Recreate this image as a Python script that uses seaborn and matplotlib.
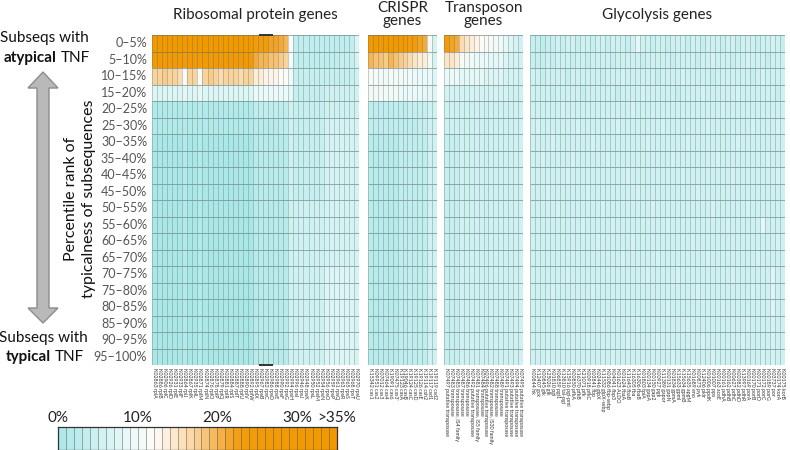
import numpy as np
import pandas as pd
import matplotlib
matplotlib.use("Agg")
import matplotlib.pyplot as plt
import seaborn as sns
from matplotlib.colors import LinearSegmentedColormap
from matplotlib.patches import Polygon

sns.set_theme(style="white")
plt.rcParams["font.family"] = ["Lato", "DejaVu Sans"]

# percentile bins (rows)
row_labels = ["0–5%", "5–10%", "10–15%", "15–20%", "20–25%", "25–30%", "30–35%",
              "35–40%", "40–45%", "45–50%", "50–55%", "55–60%", "60–65%", "65–70%",
              "70–75%", "75–80%", "80–85%", "85–90%", "90–95%", "95–100%"]

# gene labels (columns)
ribo_genes = ["K02863 rplA", "K02886 rplB", "K02906 rplC", "K02926 rplD", "K02931 rplE",
              "K02933 rplF", "K02864 rplJ", "K02867 rplK", "K02935 rplL", "K02871 rplM",
              "K02874 rplN", "K02876 rplO", "K02878 rplP", "K02879 rplQ", "K02881 rplR",
              "K02884 rplS", "K02887 rplT", "K02888 rplU", "K02890 rplV", "K02892 rplW",
              "K02895 rplX", "K02967 rpsB", "K02982 rpsC", "K02986 rpsD", "K02988 rpsE",
              "K02990 rpsF", "K02992 rpsG", "K02994 rpsH", "K02996 rpsI", "K02946 rpsJ",
              "K02948 rpsK", "K02950 rpsL", "K02952 rpsM", "K02954 rpsN", "K02956 rpsO",
              "K02959 rpsP", "K02961 rpsQ", "K02963 rpsR", "K02965 rpsS", "K02968 rpsT",
              "K02970 rpsU"]
crispr_genes = ["K15342 cas1", "K09951 cas2", "K07012 cas3", "K07464 cas4", "K19091 cas6",
                "K07475 cas3'", "K19123 casA", "K19046 casB", "K19124 casC", "K19125 casD",
                "K19126 casE", "K19114 csh2", "K19117 csd1", "K19119 csd2"]
transp_genes = ["K07497 putative transposase", "K07483 transposase",
                "K07485 transposase, IS4 family", "K07487 transposase",
                "K07486 transposase", "K07492 putative transposase",
                "K07481 transposase, IS5 family", "K07484 transposase",
                "K07496 putative transposase", "K07482 transposase, IS30 family",
                "K07488 transposase", "K07489 transposase",
                "K07491 putative transposase", "K07493 putative transposase",
                "K07494 putative transposase", "K07495 putative transposase"]
glyco_genes = ["K00844 hk", "K12407 gck", "K00845 glk", "K25026 glk", "K01810 pgi",
               "K06859 pgi1", "K13810 tal-pgi", "K15916 pgi-pmi", "K00850 pfkA",
               "K16370 pfkB", "K21071 pfk", "K00918 pfkC", "K03841 fbp", "K02446 glpX",
               "K11532 glpX-sebp", "K01086 fbp-sebp", "K04041 fbp3", "K01623 ALDO",
               "K01624 fbaA", "K11645 fbaB", "K16305 fba", "K16306 fbaB", "K01803 tpiA",
               "K00134 gapA", "K00150 gap2", "K00927 pgk", "K11389 gapor", "K00131 gapN",
               "K01834 gpmA", "K15633 gpmI", "K15634 gpmB", "K15635 apgM", "K01689 eno",
               "K00873 pyk", "K12406 pklr", "K01006 ppdK", "K01007 pps", "K00163 aceE",
               "K00161 pdhA", "K00162 pdhB", "K00627 pdhC", "K00382 pdhD", "K13997 pdhR",
               "K00169 porA", "K00170 porB", "K00171 porD", "K00172 porC", "K00189 porG",
               "K03737 por", "K00174 korA", "K00175 korB"]

# % of subsequences in each percentile bin, per gene (rows = bins)
ribo_vals = [
    [36, 36, 37, 36, 36, 35, 36, 36, 37, 35, 36, 36, 36, 37, 36, 36, 35, 36, 36, 36, 25, 24, 23, 22, 22, 21, 20, 12, 3, 3, 3, 3, 3, 3, 3, 3, 3, 3, 3, 3, 7],
    [30, 31, 29, 30, 31, 30, 24, 30, 29, 24, 31, 30, 29, 30, 31, 30, 29, 30, 30, 29, 21, 20, 20, 19, 19, 18, 17, 11, 3, 3, 3, 3, 3, 3, 3, 3, 3, 4, 4, 4, 6],
    [17, 17, 18, 17, 17, 16, 11, 17, 17, 11, 17, 18, 17, 16, 17, 17, 17, 16, 17, 17, 14, 14, 13, 13, 13, 12, 12, 10, 4, 4, 4, 4, 4, 4, 4, 4, 4, 4, 4, 4, 5],
    [7, 7, 7, 7, 7, 7, 8, 7, 7, 8, 7, 7, 7, 7, 7, 7, 7, 7, 7, 7, 9, 9, 9, 9, 9, 9, 9, 8, 4, 4, 4, 4, 4, 4, 5, 5, 5, 5, 5, 5, 5],
    [1, 1, 1, 1, 1, 1, 2, 1, 1, 2, 1, 1, 1, 1, 1, 1, 1, 1, 1, 1, 3, 3, 3, 3, 3, 3, 3, 5, 4, 4, 4, 4, 4, 4, 5, 5, 5, 5, 5, 5, 5],
    [1, 1, 1, 1, 1, 1, 1, 1, 1, 1, 1, 1, 1, 1, 1, 1, 1, 1, 1, 1, 2, 2, 2, 2, 2, 3, 3, 5, 4, 4, 4, 4, 4, 4, 6, 6, 6, 6, 6, 6, 6],
    [0, 0, 0, 0, 0, 0, 1, 0, 0, 1, 0, 0, 0, 0, 0, 0, 0, 0, 0, 0, 2, 2, 2, 2, 2, 2, 2, 5, 4, 4, 4, 4, 4, 4, 6, 6, 6, 6, 6, 6, 6],
    [0, 0, 0, 0, 0, 0, 1, 0, 0, 1, 0, 0, 0, 0, 0, 0, 0, 0, 0, 0, 2, 2, 2, 2, 2, 2, 2, 5, 4, 4, 4, 4, 4, 4, 6, 6, 6, 6, 6, 6, 6],
    [0, 0, 0, 0, 0, 0, 1, 0, 0, 1, 0, 0, 0, 0, 0, 0, 0, 0, 0, 0, 2, 2, 2, 2, 2, 2, 2, 5, 4, 4, 4, 4, 4, 4, 6, 6, 6, 6, 6, 6, 6],
    [0, 0, 0, 0, 0, 0, 1, 0, 0, 1, 0, 0, 0, 0, 0, 0, 0, 0, 0, 0, 2, 2, 2, 2, 2, 2, 2, 5, 4, 4, 4, 4, 4, 4, 6, 6, 6, 6, 6, 6, 6],
    [0, 0, 0, 0, 0, 0, 1, 0, 0, 1, 0, 0, 0, 0, 0, 0, 0, 0, 0, 0, 2, 2, 2, 2, 2, 2, 2, 5, 5, 5, 5, 5, 5, 5, 6, 6, 6, 6, 6, 6, 6],
    [0, 0, 0, 0, 0, 0, 1, 0, 0, 1, 0, 0, 0, 0, 0, 0, 0, 0, 0, 0, 2, 2, 2, 2, 2, 2, 2, 5, 5, 5, 5, 5, 5, 5, 6, 6, 6, 6, 6, 6, 6],
    [0, 0, 0, 0, 0, 0, 1, 0, 0, 1, 0, 0, 0, 0, 0, 0, 0, 0, 0, 0, 2, 2, 2, 2, 2, 2, 2, 5, 5, 5, 5, 5, 5, 5, 6, 6, 6, 6, 6, 6, 6],
    [0, 0, 0, 0, 0, 0, 1, 0, 0, 1, 0, 0, 0, 0, 0, 0, 0, 0, 0, 0, 2, 2, 2, 2, 2, 2, 2, 5, 5, 5, 5, 5, 5, 5, 6, 6, 6, 6, 6, 6, 6],
    [0, 0, 0, 0, 0, 0, 1, 0, 0, 1, 0, 0, 0, 0, 0, 0, 0, 0, 0, 0, 2, 2, 2, 2, 2, 2, 2, 5, 5, 5, 5, 5, 5, 5, 7, 7, 7, 7, 7, 7, 6],
    [0, 0, 0, 0, 0, 0, 1, 0, 0, 1, 0, 0, 0, 0, 0, 0, 0, 0, 0, 0, 2, 2, 2, 2, 2, 2, 2, 5, 5, 5, 5, 5, 5, 5, 7, 7, 7, 7, 7, 7, 6],
    [0, 0, 0, 0, 0, 0, 1, 0, 0, 1, 0, 0, 0, 0, 0, 0, 0, 0, 0, 0, 2, 2, 2, 2, 2, 2, 2, 5, 5, 5, 5, 5, 5, 5, 7, 7, 7, 7, 7, 7, 6],
    [0, 0, 0, 0, 0, 0, 1, 0, 0, 1, 0, 0, 0, 0, 0, 0, 0, 0, 0, 0, 2, 2, 2, 2, 2, 2, 2, 5, 5, 5, 5, 5, 5, 5, 7, 7, 7, 7, 7, 7, 6],
    [0, 0, 0, 0, 0, 0, 1, 0, 0, 1, 0, 0, 0, 0, 0, 0, 0, 0, 0, 0, 2, 2, 2, 2, 2, 2, 2, 5, 5, 5, 5, 5, 5, 5, 7, 7, 7, 7, 7, 7, 6],
    [0, 0, 0, 0, 0, 0, 1, 0, 0, 1, 0, 0, 0, 0, 0, 0, 0, 0, 0, 0, 2, 2, 2, 2, 2, 2, 2, 5, 5, 5, 5, 5, 5, 5, 7, 7, 7, 7, 7, 7, 6],
]
crispr_vals = [
    [34, 35, 34, 33, 35, 34, 33, 32, 25, 24, 22, 21, 11, 6],
    [20, 19, 19, 18, 20, 19, 18, 17, 16, 15, 14, 14, 10, 6],
    [11, 11, 10, 10, 11, 10, 10, 10, 10, 9, 9, 9, 9, 7],
    [10, 10, 10, 10, 10, 10, 9, 9, 9, 9, 9, 8, 8, 7],
    [3, 3, 3, 3, 3, 3, 3, 3, 4, 4, 4, 4, 5, 5],
    [3, 3, 3, 3, 3, 3, 3, 3, 3, 3, 4, 4, 5, 5],
    [2, 2, 2, 2, 2, 2, 3, 3, 3, 3, 3, 3, 5, 5],
    [2, 2, 2, 2, 2, 2, 3, 3, 3, 3, 3, 3, 5, 5],
    [2, 2, 2, 2, 2, 2, 3, 3, 3, 3, 3, 3, 5, 5],
    [2, 2, 2, 2, 2, 2, 3, 3, 3, 3, 3, 3, 5, 5],
    [2, 2, 2, 2, 2, 2, 3, 3, 3, 3, 3, 3, 5, 5],
    [2, 2, 2, 2, 2, 2, 3, 3, 3, 3, 3, 3, 5, 5],
    [2, 2, 2, 2, 2, 2, 3, 3, 3, 3, 3, 3, 5, 5],
    [2, 2, 2, 2, 2, 2, 3, 3, 3, 3, 3, 3, 5, 5],
    [2, 2, 2, 2, 2, 2, 3, 3, 3, 3, 3, 3, 5, 5],
    [2, 2, 2, 2, 2, 2, 3, 3, 3, 3, 3, 3, 5, 5],
    [2, 2, 2, 2, 2, 2, 3, 3, 3, 3, 3, 3, 5, 5],
    [2, 2, 2, 2, 2, 2, 3, 3, 3, 3, 3, 3, 5, 5],
    [2, 2, 2, 2, 2, 2, 3, 3, 3, 3, 3, 3, 5, 5],
    [2, 2, 2, 2, 2, 2, 3, 3, 3, 3, 3, 3, 5, 5],
]
transp_vals = [
    [23, 22, 21, 16, 15, 14, 13, 12, 11, 11, 10, 10, 8, 7, 6, 5],
    [15, 15, 14, 11, 10, 10, 9, 9, 9, 8, 8, 8, 7, 6, 6, 5],
    [9, 9, 9, 8, 8, 8, 8, 8, 7, 7, 7, 7, 6, 6, 6, 5],
    [6, 6, 6, 6, 6, 6, 6, 6, 6, 6, 6, 6, 6, 5, 5, 5],
    [5, 5, 5, 5, 5, 5, 5, 5, 5, 5, 5, 5, 5, 5, 5, 5],
    [5, 5, 5, 5, 5, 5, 5, 5, 5, 5, 5, 5, 5, 5, 5, 5],
    [4, 4, 4, 5, 5, 5, 5, 5, 5, 5, 5, 5, 5, 5, 5, 5],
    [4, 4, 4, 5, 5, 5, 5, 5, 5, 5, 5, 5, 5, 5, 5, 5],
    [4, 4, 4, 5, 5, 5, 5, 5, 5, 5, 5, 5, 5, 5, 5, 5],
    [4, 4, 4, 5, 5, 5, 5, 5, 5, 5, 5, 5, 5, 5, 5, 5],
    [4, 4, 4, 5, 5, 5, 5, 5, 5, 5, 5, 5, 5, 5, 5, 5],
    [4, 4, 4, 5, 5, 5, 5, 5, 5, 5, 5, 5, 5, 5, 5, 5],
    [4, 4, 4, 5, 5, 5, 5, 5, 5, 5, 5, 5, 5, 5, 5, 5],
    [4, 4, 4, 5, 5, 5, 5, 5, 5, 5, 5, 5, 5, 5, 5, 5],
    [4, 4, 4, 5, 5, 5, 5, 5, 5, 5, 5, 5, 5, 5, 5, 5],
    [4, 4, 4, 5, 5, 5, 5, 5, 5, 5, 5, 5, 5, 5, 5, 5],
    [4, 4, 4, 5, 5, 5, 5, 5, 5, 5, 5, 5, 5, 5, 5, 5],
    [4, 4, 4, 5, 5, 5, 5, 5, 5, 5, 5, 5, 5, 5, 5, 5],
    [4, 4, 4, 5, 5, 5, 5, 5, 5, 5, 5, 5, 5, 5, 5, 5],
    [4, 4, 4, 5, 5, 5, 5, 5, 5, 5, 5, 5, 5, 5, 5, 5],
]
glyco_vals = [
    [4, 4, 3, 4, 4, 5, 4, 5, 5, 4, 5, 5, 4, 5, 5, 4, 5, 5, 5, 4, 5, 8, 5, 5, 4, 5, 5, 4, 5, 5, 5, 4, 5, 5, 4, 5, 5, 5, 4, 5, 5, 4, 5, 5, 5, 4, 5, 5, 6, 5, 4],
    [4, 4, 4, 5, 4, 5, 5, 5, 4, 5, 5, 4, 5, 5, 5, 5, 4, 5, 5, 5, 5, 5, 4, 5, 5, 5, 5, 5, 4, 5, 5, 5, 5, 4, 5, 5, 6, 5, 5, 5, 4, 5, 5, 6, 5, 5, 5, 4, 5, 5, 5],
    [5, 5, 4, 5, 5, 5, 5, 4, 5, 5, 5, 5, 5, 5, 4, 5, 5, 5, 6, 5, 5, 5, 5, 5, 5, 4, 5, 5, 5, 5, 6, 5, 5, 5, 5, 5, 4, 5, 5, 5, 5, 5, 5, 5, 4, 5, 6, 5, 5, 5, 5],
    [5, 5, 5, 5, 4, 5, 5, 5, 5, 5, 4, 5, 5, 5, 5, 5, 5, 4, 5, 5, 5, 5, 6, 5, 5, 5, 5, 5, 5, 4, 5, 5, 5, 5, 6, 5, 5, 5, 5, 5, 5, 6, 5, 5, 5, 5, 5, 5, 5, 4, 5],
    [5, 5, 5, 5, 5, 5, 6, 5, 5, 5, 5, 5, 5, 5, 5, 5, 5, 5, 5, 5, 6, 5, 5, 5, 5, 5, 5, 5, 5, 5, 5, 5, 5, 5, 5, 5, 5, 5, 6, 5, 5, 5, 5, 5, 5, 5, 5, 5, 5, 5, 5],
    [5, 6, 5, 5, 5, 5, 5, 5, 5, 6, 5, 5, 5, 5, 5, 5, 5, 6, 5, 5, 5, 5, 5, 5, 5, 5, 6, 5, 5, 5, 5, 5, 5, 5, 5, 6, 5, 5, 5, 5, 5, 5, 5, 5, 6, 5, 5, 5, 5, 6, 5],
    [5, 5, 5, 5, 6, 5, 5, 5, 5, 5, 5, 5, 6, 5, 5, 5, 5, 5, 5, 5, 5, 5, 5, 6, 5, 5, 5, 5, 5, 5, 5, 6, 5, 5, 5, 5, 5, 5, 5, 5, 5, 6, 5, 5, 5, 5, 5, 5, 5, 5, 5],
    [5, 5, 6, 5, 5, 5, 5, 5, 6, 5, 5, 5, 5, 5, 5, 6, 5, 5, 5, 5, 5, 5, 5, 5, 5, 5, 5, 5, 6, 5, 5, 5, 5, 5, 5, 5, 5, 6, 5, 5, 5, 5, 5, 5, 5, 5, 5, 6, 5, 5, 5],
    [5, 5, 5, 5, 5, 5, 5, 6, 5, 5, 5, 5, 5, 5, 5, 5, 5, 5, 5, 6, 5, 5, 5, 5, 5, 5, 5, 5, 5, 5, 6, 5, 5, 5, 5, 5, 5, 5, 5, 5, 6, 5, 5, 5, 5, 5, 5, 5, 5, 6, 5],
    [5, 5, 5, 6, 5, 5, 5, 5, 5, 5, 5, 6, 5, 5, 5, 5, 5, 5, 5, 5, 5, 6, 5, 5, 5, 5, 5, 5, 5, 5, 5, 5, 5, 6, 5, 5, 5, 5, 5, 5, 5, 5, 5, 5, 5, 5, 5, 5, 5, 5, 5],
    [5, 5, 5, 5, 5, 6, 5, 5, 5, 5, 5, 5, 5, 5, 6, 5, 5, 5, 5, 5, 5, 5, 5, 5, 6, 5, 5, 5, 5, 5, 5, 5, 5, 5, 5, 5, 6, 5, 5, 5, 5, 5, 5, 6, 5, 5, 5, 5, 5, 5, 5],
    [5, 5, 5, 5, 5, 5, 5, 5, 5, 5, 6, 5, 5, 5, 5, 5, 6, 5, 5, 5, 5, 5, 5, 5, 5, 5, 5, 6, 5, 5, 5, 5, 5, 5, 5, 5, 5, 5, 5, 6, 5, 5, 5, 5, 5, 5, 8, 5, 5, 5, 5],
    [5, 5, 5, 5, 5, 5, 5, 5, 5, 5, 5, 5, 5, 6, 5, 5, 5, 5, 5, 5, 6, 5, 5, 5, 5, 5, 5, 5, 5, 5, 5, 5, 6, 5, 5, 5, 5, 5, 5, 5, 5, 5, 5, 5, 5, 5, 5, 5, 5, 6, 5],
    [5, 5, 5, 5, 5, 5, 5, 5, 5, 5, 5, 5, 5, 5, 5, 5, 5, 5, 6, 5, 5, 5, 5, 5, 5, 6, 5, 5, 5, 5, 5, 5, 5, 5, 5, 6, 5, 5, 5, 5, 5, 5, 5, 5, 5, 6, 5, 5, 5, 5, 5],
    [5, 5, 5, 5, 5, 5, 5, 6, 5, 5, 5, 5, 5, 5, 5, 5, 5, 5, 5, 5, 5, 5, 5, 6, 5, 5, 5, 5, 5, 6, 5, 5, 5, 5, 5, 5, 5, 5, 5, 5, 6, 5, 5, 5, 5, 5, 5, 5, 7, 5, 5],
    [5, 5, 5, 5, 6, 5, 5, 5, 5, 5, 5, 5, 6, 5, 5, 5, 5, 5, 5, 5, 5, 5, 5, 5, 5, 5, 5, 5, 5, 5, 5, 5, 5, 6, 5, 5, 5, 5, 5, 5, 5, 5, 5, 5, 6, 5, 5, 5, 7, 5, 5],
    [5, 5, 5, 5, 5, 5, 5, 5, 5, 6, 5, 5, 5, 5, 5, 5, 5, 6, 5, 5, 5, 5, 5, 5, 5, 5, 5, 6, 5, 5, 5, 5, 5, 5, 5, 5, 5, 5, 6, 5, 5, 5, 5, 5, 5, 5, 5, 5, 7, 5, 5],
    [5, 5, 5, 5, 5, 5, 6, 5, 5, 5, 5, 5, 5, 5, 6, 5, 5, 5, 5, 5, 5, 6, 5, 5, 5, 5, 5, 5, 5, 5, 5, 6, 5, 5, 5, 5, 5, 5, 5, 5, 5, 5, 5, 6, 5, 5, 5, 5, 6, 5, 5],
    [5, 5, 5, 5, 5, 5, 5, 5, 5, 5, 5, 6, 5, 5, 5, 5, 5, 5, 5, 6, 5, 5, 5, 5, 5, 6, 5, 5, 5, 5, 5, 5, 5, 5, 6, 5, 5, 5, 5, 5, 5, 5, 6, 5, 5, 5, 5, 5, 6, 5, 5],
    [5, 5, 5, 6, 5, 5, 5, 5, 5, 5, 5, 5, 5, 5, 5, 5, 6, 5, 5, 5, 5, 5, 5, 5, 5, 5, 5, 5, 6, 5, 5, 5, 5, 5, 5, 5, 6, 5, 5, 5, 5, 5, 5, 5, 5, 5, 6, 5, 6, 5, 5],
]

panel_titles = ["Ribosomal protein genes", "CRISPR\ngenes", "Transposon\ngenes", "Glycolysis genes"]
cbar_levels = list(range(35))
cbar_ticks = [0, 10, 20, 30, 35]
cbar_ticklabels = ["0%", "10%", "20%", "30%", ">35%"]

# cyan -> white -> orange colour scale, 0..35 %
cmap = LinearSegmentedColormap.from_list("tnf", [
    (0.0, "#abe7e7"), (5 / 35, "#d0f1f1"), (9 / 35, "#ecf9f9"), (12 / 35, "#fefbf7"),
    (15 / 35, "#fce5c6"), (18 / 35, "#f8cb88"), (21 / 35, "#f4aa38"),
    (23 / 35, "#f29c0c"), (1.0, "#f29900")])

W, H = 790, 450
fig = plt.figure(figsize=(W / 100, H / 100), dpi=100)


def px_axes(x0, y0, x1, y1):
    return fig.add_axes([x0 / W, 1 - y1 / H, (x1 - x0) / W, (y1 - y0) / H])


panels = [
    (ribo_vals, ribo_genes, (152, 359)),
    (crispr_vals, crispr_genes, (368, 437)),
    (transp_vals, transp_genes, (444, 523)),
    (glyco_vals, glyco_genes, (530, 785)),
]

grid_col = (0.30, 0.40, 0.40, 0.30)
for i, (vals, genes, (x0, x1)) in enumerate(panels):
    ax = px_axes(x0, 35, x1, 365)
    df = pd.DataFrame(vals, index=row_labels, columns=genes)
    sns.heatmap(df, ax=ax, cmap=cmap, vmin=0, vmax=35, cbar=False,
                linewidths=0.4, linecolor=grid_col,
                xticklabels=True, yticklabels=(i == 0))
    ax.hlines(np.arange(len(row_labels) + 1), 0, len(genes),
              color=(0.38, 0.44, 0.44, 0.5), lw=0.5)
    ax.set_xlabel("")
    ax.set_ylabel("")
    ax.set_xticklabels(genes, rotation=-90, fontsize=3.8, color="#333333")
    ax.tick_params(axis="x", length=0, pad=2)
    if i == 0:
        ax.set_yticklabels(row_labels, rotation=0, fontsize=9, color="#555555")
        ax.tick_params(axis="y", length=0, pad=3.5)
        ax.hlines([0, len(row_labels)], 21.2, 24, color="#333333", lw=1.4, clip_on=False)

# panel titles
title_pos = [(255.5, [19]), (402.5, [12, 25]), (483.5, [12, 25]), (657.5, [19])]
for title, (xc, baselines) in zip(panel_titles, title_pos):
    for line, yb in zip(title.split("\n"), baselines):
        fig.text(xc / W, 1 - yb / H, line, ha="center", va="baseline",
                 fontsize=11, color="#222222")

# colour scale
cax = px_axes(58, 427, 337, 450)
cdf = pd.DataFrame([[v + 0.5 for v in cbar_levels]], columns=cbar_levels)
sns.heatmap(cdf, ax=cax, cmap=cmap, vmin=0, vmax=35, cbar=False,
            linewidths=0.5, linecolor=(0.3, 0.3, 0.3, 0.45),
            xticklabels=False, yticklabels=False)
cax.set_xticks(cbar_ticks)
cax.set_xticklabels(cbar_ticklabels, fontsize=11, color="#222222")
cax.xaxis.set_ticks_position("top")
cax.tick_params(axis="x", length=0, pad=1.5, top=True, bottom=False,
                labeltop=True, labelbottom=False)
cax.set_xlabel("")
cax.set_ylabel("")
for s in cax.spines.values():
    s.set_visible(True)
    s.set_color("#333333")
    s.set_linewidth(0.9)

# left-hand annotation
def ftext(x, y, s, **kw):
    fig.text(x / W, 1 - y / H, s, **kw)


ftext(44, 38, "Subseqs with", ha="center", va="center", fontsize=11, color="#111111")
ftext(56, 58, "atypical", ha="right", va="center", fontsize=11, weight="bold", color="#111111")
ftext(61, 58, "TNF", ha="left", va="center", fontsize=11, color="#111111")
ftext(43, 338, "Subseqs with", ha="center", va="center", fontsize=11, color="#111111")
ftext(51, 357, "typical", ha="right", va="center", fontsize=11, weight="bold", color="#111111")
ftext(55, 357, "TNF", ha="left", va="center", fontsize=11, color="#111111")
ftext(80, 199, "Percentile rank of\ntypicalness of subsequences", rotation=90,
      ha="center", va="center", multialignment="center", fontsize=11.5,
      linespacing=1.35, color="#111111")

# double-headed grey arrow (pixel outline)
arrow_pts = [(43, 72), (58, 88), (49, 88), (49, 308), (58, 308), (43, 323),
             (28, 308), (37, 308), (37, 88), (28, 88)]
fig.add_artist(Polygon([(x / W, 1 - y / H) for x, y in arrow_pts], closed=True,
                       transform=fig.transFigure, facecolor="#b9b9b9",
                       edgecolor="#8c8c8c", lw=1.0))

fig.savefig("out.png", dpi=100)
